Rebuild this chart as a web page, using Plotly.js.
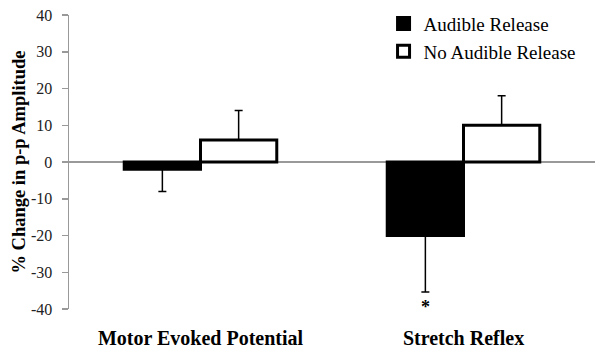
<!DOCTYPE html>
<html>
<head>
<meta charset="utf-8">
<script src="https://cdn.plot.ly/plotly-3.0.1.min.js"></script>
<style>html,body{margin:0;padding:0;background:#fff;}#chart{width:600px;height:361px;}</style>
</head>
<body>
<div id="chart"></div>
<script>
const categories = ["Motor Evoked Potential", "Stretch Reflex"];
const seriesNames = ["Audible Release", "No Audible Release"];
const audibleValues = [-2, -20];
const audibleErrorDown = [6, 15.4];
const noAudibleValues = [6, 10];
const noAudibleErrorUp = [8, 8];
const yTickValues = [-40, -30, -20, -10, 0, 10, 20, 30, 40];
const yTickLabels = ["-40", "-30", "-20", "-10", "0", "10", "20", "30", "40"];
const significanceMarks = [{category: "Stretch Reflex", series: 0, label: "*"}];

const serif = "Liberation Serif, Times New Roman, serif";

const traces = [
  {
    type: "bar", name: seriesNames[0], x: categories, y: audibleValues,
    legendgroup: "a",
    marker: {color: "#000000", line: {color: "#000000", width: 3}},
    error_y: {type: "data", symmetric: false, array: [0, 0], arrayminus: audibleErrorDown,
              color: "#000000", thickness: 1.5, width: 4}
  },
  {
    type: "bar", name: seriesNames[1], x: categories, y: noAudibleValues,
    legendgroup: "b",
    marker: {color: "#ffffff", line: {color: "#000000", width: 3}},
    error_y: {type: "data", symmetric: false, array: noAudibleErrorUp, arrayminus: [0, 0],
              color: "#000000", thickness: 1.5, width: 4}
  }
];

const annotations = significanceMarks.map(m => {
  const i = categories.indexOf(m.category);
  const yv = audibleValues[i] - audibleErrorDown[i];
  return {
    x: m.category, y: yv, xref: "x", yref: "y", text: "<b>" + m.label + "</b>",
    showarrow: false, yanchor: "top", yshift: -3, xshift: -38,
    font: {family: serif, size: 18, color: "#000"}
  };
});

const layout = {
  width: 600, height: 361,
  margin: {l: 69, r: 5, t: 13, b: 52},
  paper_bgcolor: "#fff", plot_bgcolor: "#fff",
  barmode: "group", bargap: 0.42, bargroupgap: 0,
  showlegend: true,
  legend: {
    xref: "paper", yref: "paper", x: 0.598, y: 1.035, xanchor: "left", yanchor: "top",
    font: {family: serif, size: 19, color: "#000"},
    traceorder: "grouped", tracegroupgap: 0, bgcolor: "rgba(0,0,0,0)"
  },
  xaxis: {
    showline: false, showgrid: false, zeroline: false, ticks: "",
    tickfont: {family: serif, size: 20, color: "#000", weight: "bold"},
    ticklabelstandoff: 15
  },
  yaxis: {
    range: [-40, 40], tickvals: yTickValues, ticktext: yTickLabels, showgrid: false,
    showline: true, linecolor: "#999", linewidth: 1.5,
    ticks: "outside", ticklen: 6, tickcolor: "#999", tickwidth: 1.5,
    ticklabelstandoff: 6,
    zeroline: true, zerolinecolor: "#999", zerolinewidth: 2,
    tickfont: {family: serif, size: 16, color: "#222"},
    title: {text: "% Change in p-p Amplitude", font: {family: serif, size: 18.5, color: "#000", weight: "bold"}, standoff: 0}
  },
  annotations: annotations
};

Plotly.newPlot("chart", traces, layout, {displayModeBar: false, staticPlot: true});
</script>
</body>
</html>
